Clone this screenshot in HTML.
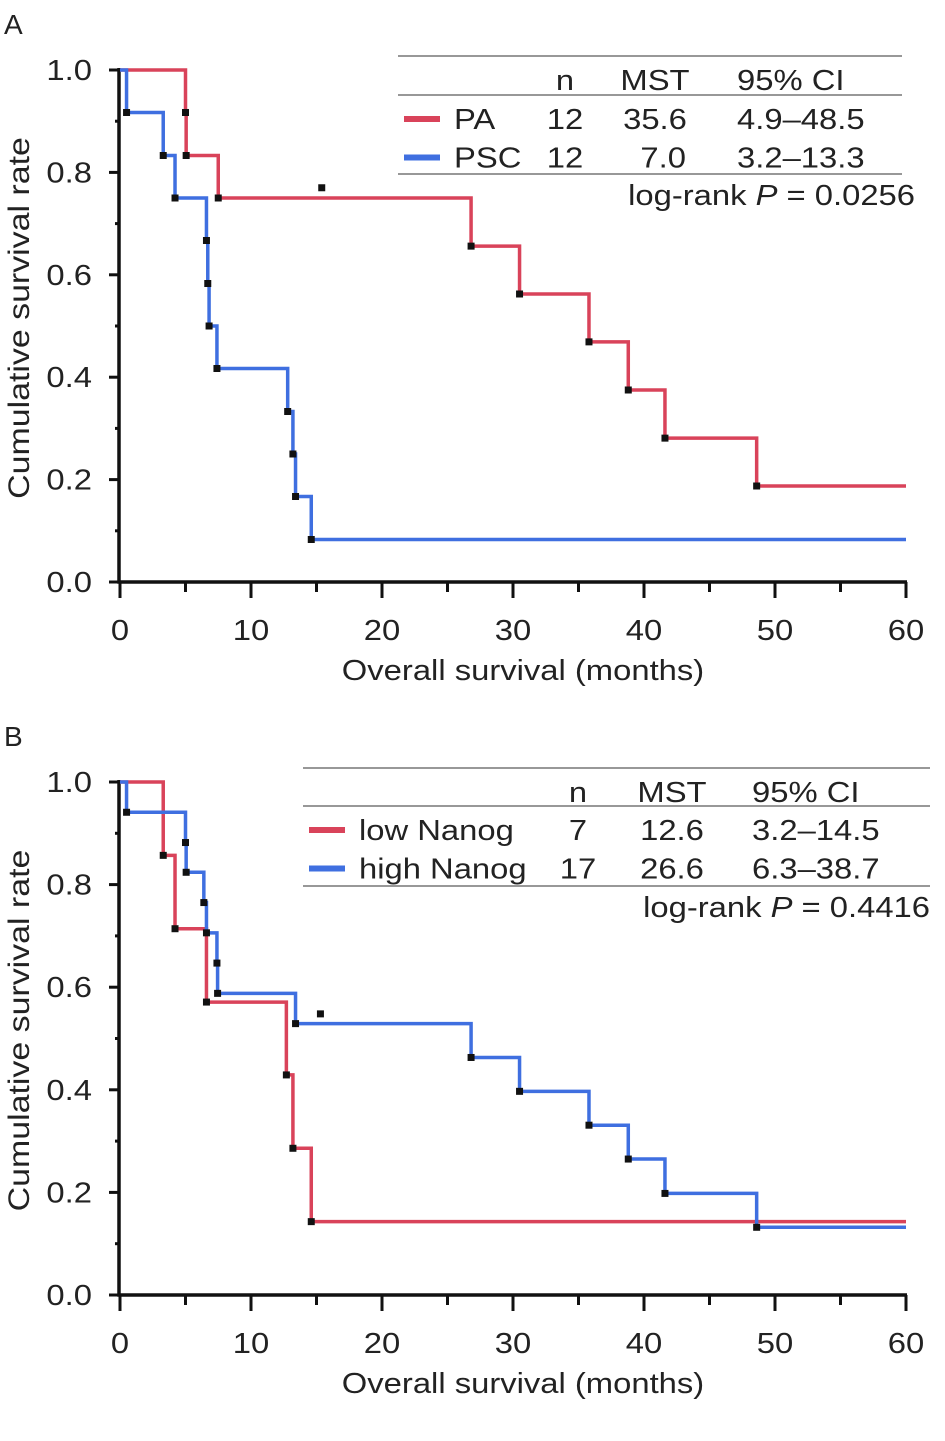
<!DOCTYPE html>
<html><head><meta charset="utf-8">
<style>
body{margin:0;background:#fff;}
svg{display:block;font-family:"Liberation Sans",Arial,sans-serif;}
text{fill:#222;}
</style></head>
<body>
<svg id="chart" width="945" height="1441" viewBox="0 0 945 1441" xmlns="http://www.w3.org/2000/svg">
<text x="4" y="34" font-size="28">A</text>
<text x="4" y="746" font-size="28">B</text>
</svg>
<script>
const xTicks = [0,10,20,30,40,50,60];
const yTickLabels = ["0.0","0.2","0.4","0.6","0.8","1.0"];
const yTicks = [0,0.2,0.4,0.6,0.8,1.0];

const paTimes = [5.0,5.05,7.5,26.8,30.5,35.8,38.8,41.6,48.6];
const paSurv = [0.917,0.833,0.75,0.656,0.5625,0.469,0.375,0.281,0.1875];
const paCensor = [[15.4,0.77]];
const pscTimes = [0.5,3.3,4.2,6.6,6.7,6.8,7.4,12.8,13.2,13.4,14.6];
const pscSurv = [0.917,0.833,0.75,0.667,0.583,0.5,0.417,0.333,0.25,0.167,0.083];
const pscCensor = [];

const lowTimes = [3.3,4.2,6.6,12.7,13.2,14.6];
const lowSurv = [0.857,0.714,0.571,0.429,0.286,0.143];
const lowCensor = [];
const highTimes = [0.5,5.0,5.05,6.4,6.6,7.4,7.45,13.4,26.8,30.5,35.8,38.8,41.6,48.6];
const highSurv = [0.941,0.882,0.824,0.765,0.706,0.647,0.588,0.529,0.463,0.397,0.331,0.265,0.198,0.132];
const highCensor = [[15.3,0.548]];

const RED = "#d9435a", BLUE = "#3f6fe0";
const STRETCH = 1.13;
const svg = document.getElementById('chart');
const NS = "http://www.w3.org/2000/svg";
function mk(tag, attrs, parent){
  const e = document.createElementNS(NS, tag);
  for (const k in attrs) e.setAttribute(k, attrs[k]);
  (parent||svg).appendChild(e); return e;
}
function stretch(t){
  const l = t.getComputedTextLength();
  if (l>0){ t.setAttribute('textLength', (l*STRETCH).toFixed(1)); t.setAttribute('lengthAdjust','spacingAndGlyphs'); }
}

function panel(cfg){
  const X0=120, X1=906, Y0=cfg.y0, Y1=cfg.y1;
  const xs = t => X0 + (X1-X0)*t/60;
  const ys = v => Y0 + (Y1-Y0)*v;
  const g = mk('g',{});
  
  
  const ax = mk('path',{d:`M${X0-1},${ys(1)-2} V${Y0} H${X1+1}`,fill:'none',stroke:'#111','stroke-width':3.5},g);
  
  
  for (let i=0;i<=10;i++){
    const v=i/10, maj=i%2===0;
    const t = mk('line',{x1:X0-(maj?11:5),x2:X0,y1:ys(v),y2:ys(v),stroke:'#111','stroke-width':3},g);
    
    
  }
  yTicks.forEach((v,i)=>{
    const t = mk('text',{x:92,y:ys(v)+10,'font-size':29,'text-anchor':'end'},g);
    t.textContent = yTickLabels[i];
    
    
    stretch(t);
  });
  for (let m=0;m<=60;m+=5){
    const maj=m%10===0;
    const t = mk('line',{x1:xs(m),x2:xs(m),y1:Y0,y2:Y0+(maj?16:10),stroke:'#111','stroke-width':3},g);
    
    
  }
  xTicks.forEach(m=>{
    const t = mk('text',{x:xs(m),y:Y0+58,'font-size':29,'text-anchor':'middle'},g);
    t.textContent = m;
    
    
    stretch(t);
  });
  const xt = mk('text',{x:523,y:Y0+98,'font-size':29,'text-anchor':'middle'},g);
  xt.textContent='Overall survival (months)';
  
  
  stretch(xt);
  const yt = mk('text',{x:0,y:0,'font-size':30,'text-anchor':'middle',transform:`translate(29,${(ys(1)+Y0)/2-8}) rotate(-90)`},g);
  yt.textContent='Cumulative survival rate';
  
  
  stretch(yt);
  cfg.series.forEach(s=>{
    let d=`M${xs(0)},${ys(1)}`;
    s.times.forEach((t,i)=>{ d+=` H${xs(t)} V${ys(s.surv[i])}`; });
    d+=` H${xs(60)}`;
    const p = mk('path',{d,fill:'none',stroke:s.color,'stroke-width':3.5},g);
    
    
  });
  cfg.series.forEach(s=>{
    s.times.forEach((t,i)=>{
      const r = mk('rect',{x:xs(t)-3.5,y:ys(s.surv[i])-3.5,width:7,height:7,fill:'#111'},g);
      
      
    });
    s.censor.forEach(c=>{
      const r = mk('rect',{x:xs(c[0])-3.5,y:ys(c[1])-3.5,width:7,height:7,fill:'#111'},g);
      
      
    });
  });
  const L=cfg.leg;
  [L.l1,L.l2,L.l3].forEach(y=>{
    const ln = mk('line',{x1:L.x0,x2:L.x1,y1:y,y2:y,stroke:'#777','stroke-width':1.5},g);
    
    
  });
  const txt=(x,y,s,anchor,name)=>{
    const t=mk('text',{x,y,'font-size':29,'text-anchor':anchor||'start'},g);
    t.innerHTML=s;
    
    
    stretch(t);
  };
  txt(L.cn,L.l1+34,'n','middle','legend-header-n');
  txt(L.cm,L.l1+34,'MST','middle','legend-header-mst');
  txt(L.cc,L.l1+34,'95% CI','start','legend-header-ci');
  cfg.rows.forEach((r,i)=>{
    const y=L.l2+34+i*38.5;
    const sw = mk('line',{x1:L.x0+6,x2:L.x0+42,y1:y-10,y2:y-10,stroke:r.color,'stroke-width':6},g);
    
    
    txt(L.x0+56,y,r.label,'start','legend-label-'+r.key);
    txt(L.cn,y,r.n,'middle','legend-n-'+r.key);
    txt(L.cm,y,r.mst,'middle','legend-mst-'+r.key);
    txt(L.cc,y,r.ci,'start','legend-ci-'+r.key);
  });
  txt(L.pr,L.l3+31,'log-rank <tspan font-style="italic">P</tspan> = '+cfg.p,'end','log-rank-p');
}

panel({name:'panel-a',y0:582,y1:70,
  series:[{name:'pa',times:paTimes,surv:paSurv,censor:paCensor,color:RED},
          {name:'psc',times:pscTimes,surv:pscSurv,censor:pscCensor,color:BLUE}],
  leg:{x0:398,x1:902,l1:56,l2:95,l3:174,cn:565,cm:655,cc:737,pr:915},
  rows:[{key:'pa',label:'PA',n:'12',mst:'35.6',ci:'4.9–48.5',color:RED},
        {key:'psc',label:'PSC',n:'12',mst:'\u20027.0',ci:'3.2–13.3',color:BLUE}],
  p:'0.0256'});
panel({name:'panel-b',y0:1295,y1:782,
  series:[{name:'low-nanog',times:lowTimes,surv:lowSurv,censor:lowCensor,color:RED},
          {name:'high-nanog',times:highTimes,surv:highSurv,censor:highCensor,color:BLUE}],
  leg:{x0:303,x1:930,l1:768,l2:806,l3:886,cn:578,cm:672,cc:752,pr:930},
  rows:[{key:'low',label:'low Nanog',n:'7',mst:'12.6',ci:'3.2–14.5',color:RED},
        {key:'high',label:'high Nanog',n:'17',mst:'26.6',ci:'6.3–38.7',color:BLUE}],
  p:'0.4416'});
</script>
</body></html>
